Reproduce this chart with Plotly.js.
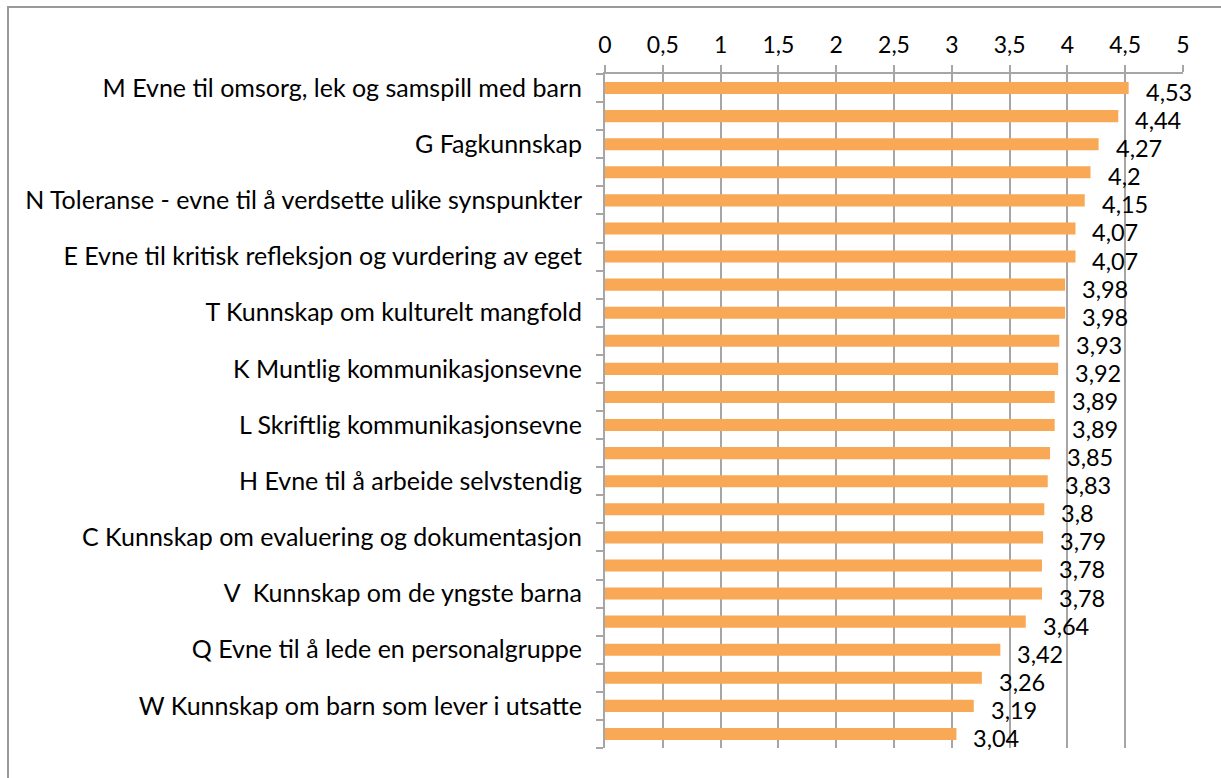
<!DOCTYPE html>
<html>
<head>
<meta charset="utf-8">
<script src="https://cdn.plot.ly/plotly-3.0.1.min.js"></script>
<style>
  html, body { margin: 0; padding: 0; background: #fff; }
  #chart { width: 1221px; height: 778px; }
</style>
</head>
<body>
<div id="chart"></div>
<script>
// Values, top to bottom
const values = [4.53, 4.44, 4.27, 4.2, 4.15, 4.07, 4.07, 3.98, 3.98, 3.93, 3.92, 3.89,
                3.89, 3.85, 3.83, 3.8, 3.79, 3.78, 3.78, 3.64, 3.42, 3.26, 3.19, 3.04];
// Category labels shown on the axis (every second category)
const shownLabels = [
  "M Evne til omsorg, lek og samspill med barn",
  "G Fagkunnskap",
  "N Toleranse - evne til å verdsette ulike synspunkter",
  "E Evne til kritisk refleksjon og vurdering av eget",
  "T Kunnskap om kulturelt mangfold",
  "K Muntlig kommunikasjonsevne",
  "L Skriftlig kommunikasjonsevne",
  "H Evne til å arbeide selvstendig",
  "C Kunnskap om evaluering og dokumentasjon",
  "V  Kunnskap om de yngste barna",
  "Q Evne til å lede en personalgruppe",
  "W Kunnskap om barn som lever i utsatte"
];
const xTickVals = [0, 0.5, 1, 1.5, 2, 2.5, 3, 3.5, 4, 4.5, 5];
const xTickText = ["0", "0,5", "1", "1,5", "2", "2,5", "3", "3,5", "4", "4,5", "5"];

const positions = values.map((v, i) => i);
const labelPositions = shownLabels.map((s, i) => i * 2);
const boundaries = values.map((v, i) => i - 0.5).concat([values.length - 0.5]);
const fmt = v => String(v).replace('.', ',');

const FONT = "Lato, 'Open Sans', sans-serif";

const trace = {
  type: 'bar',
  orientation: 'h',
  x: values,
  y: positions,
  width: 0.43,
  marker: { color: '#F9A855' },
  hoverinfo: 'x'
};

const annotations = values.map((v, i) => ({
  x: v, y: i, xref: 'x', yref: 'y',
  text: fmt(v), showarrow: false,
  xanchor: 'left', yanchor: 'middle',
  xshift: 15, yshift: -4,
  font: { family: FONT, size: 23.5, color: '#000' }
}));

const layout = {
  width: 1221, height: 778,
  margin: { l: 605, r: 38, t: 74, b: 30 },
  paper_bgcolor: '#fff', plot_bgcolor: '#fff',
  showlegend: false,
  font: { family: FONT, size: 23, color: '#000' },
  xaxis: {
    side: 'top', range: [0, 5],
    tickvals: xTickVals, ticktext: xTickText,
    showgrid: true, gridcolor: '#A6A6A6', gridwidth: 2,
    showline: true, linecolor: '#A6A6A6', linewidth: 2,
    ticks: 'outside', ticklen: 7, tickcolor: '#A6A6A6', tickwidth: 2,
    ticklabelstandoff: 3,
    zeroline: false, fixedrange: true,
    tickfont: { family: FONT, size: 23, color: '#000' }
  },
  yaxis: {
    range: [values.length - 0.5, -0.5],
    tickvals: labelPositions, ticktext: shownLabels,
    ticks: '', ticklabelstandoff: 16,
    minor: { tickvals: boundaries, ticks: 'outside', ticklen: 7, tickcolor: '#A6A6A6', tickwidth: 2, showgrid: false },
    showgrid: false, zeroline: false,
    showline: true, linecolor: '#A6A6A6', linewidth: 2,
    fixedrange: true,
    tickfont: { family: FONT, size: 25, color: '#000' }
  },
  annotations: annotations,
  shapes: [{
    type: 'rect', xref: 'paper', yref: 'paper',
    x0: (8 - 605) / 578, x1: (1300 - 605) / 578,
    y0: (748 - 800) / 674, y1: (748 - 7) / 674,
    line: { color: '#999999', width: 2 }, fillcolor: 'rgba(0,0,0,0)', layer: 'below'
  }]
};

Plotly.newPlot('chart', [trace], layout, { displayModeBar: false, staticPlot: true });
</script>
</body>
</html>
